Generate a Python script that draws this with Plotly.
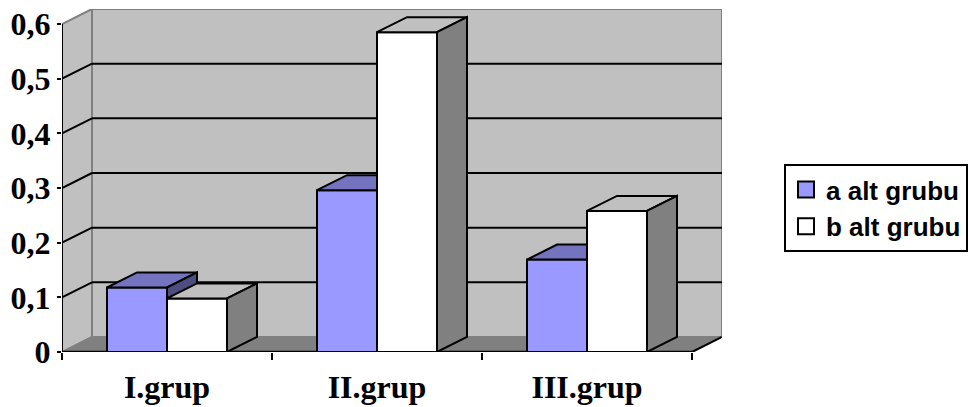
import plotly.graph_objects as go

# Data
categories = ["I.grup", "II.grup", "III.grup"]
series_names = ["a alt grubu", "b alt grubu"]
values_a = [0.118, 0.296, 0.169]
values_b = [0.098, 0.585, 0.258]
y_ticks = [0, 0.1, 0.2, 0.3, 0.4, 0.5, 0.6]
y_tick_text = ["0", "0,1", "0,2", "0,3", "0,4", "0,5", "0,6"]

# 3D look: depth offset in axis units (x per category, y per value)
DX = 30 / 210
DY = 0.15 / 5.46
BAR_W = 60 / 210
Y_MAX = 0.6

WALL = "#C0C0C0"
WALL_EDGE = "#808080"
FLOOR = "#808080"

series_styles = [
    dict(front="#9999FF", top="#7373BF", side="#4D4D80"),
    dict(front="#FFFFFF", top="#C0C0C0", side="#808080"),
]


def box_faces(x0, x1, v):
    front = ([x0, x1, x1, x0, x0], [0, 0, v, v, 0])
    top = ([x0, x1, x1 + DX, x0 + DX, x0], [v, v, v + DY, v + DY, v])
    side = ([x1, x1 + DX, x1 + DX, x1, x1], [0, DY, v + DY, v, 0])
    return front, top, side


def face_trace(polys, color):
    xs, ys = [], []
    for px, py in polys:
        xs += px + [None]
        ys += py + [None]
    return go.Scatter(
        x=xs, y=ys, mode="lines", fill="toself", fillcolor=color,
        line=dict(color="black", width=2), hoverinfo="skip", showlegend=False,
    )


fig = go.Figure()

for s, vals in enumerate([values_a, values_b]):
    fronts, tops, sides = [], [], []
    for i, v in enumerate(vals):
        x0 = i - BAR_W + s * BAR_W
        f, t, sd = box_faces(x0, x0 + BAR_W, v)
        fronts.append(f)
        tops.append(t)
        sides.append(sd)
    st = series_styles[s]
    fig.add_trace(face_trace(fronts, st["front"]))
    fig.add_trace(face_trace(tops, st["top"]))
    fig.add_trace(face_trace(sides, st["side"]))

# legend entries
for s, name in enumerate(series_names):
    fig.add_trace(go.Scatter(
        x=[None], y=[None], mode="markers", name=name, legendgroup=name,
        marker=dict(symbol="square", size=16, color=series_styles[s]["front"],
                    line=dict(color="black", width=2)),
    ))

# walls, floor, gridlines, axis lines
xl, xr = -0.5, 2.5
shapes = [
    dict(type="path",
         path=f"M{xl},0 L{xl},{Y_MAX} L{xl+DX},{Y_MAX+DY} L{xl+DX},{DY} Z",
         fillcolor=WALL, line=dict(color=WALL_EDGE, width=2), layer="below"),
    dict(type="rect", x0=xl + DX, x1=xr + DX, y0=DY, y1=Y_MAX + DY,
         fillcolor=WALL, line=dict(color=WALL_EDGE, width=2), layer="below"),
    dict(type="path",
         path=f"M{xl},0 L{xr},0 L{xr+DX},{DY} L{xl+DX},{DY} Z",
         fillcolor=FLOOR, line=dict(color=WALL_EDGE, width=1.5), layer="below"),
]
for v in y_ticks[1:-1]:
    shapes.append(dict(type="line", x0=xl + DX, x1=xr + DX, y0=v + DY, y1=v + DY,
                       line=dict(color="black", width=2), layer="below"))
    shapes.append(dict(type="line", x0=xl, x1=xl + DX, y0=v, y1=v + DY,
                       line=dict(color="black", width=2), layer="below"))
shapes += [
    dict(type="line", x0=xl, x1=xl, y0=0, y1=Y_MAX,
         line=dict(color="black", width=2), layer="below"),
    dict(type="line", x0=xl, x1=xr, y0=0, y1=0,
         line=dict(color="black", width=2.5), layer="below"),
    dict(type="line", x0=xr, x1=xr + DX, y0=0, y1=DY,
         line=dict(color="black", width=2), layer="below"),
]

label_font = dict(family="Liberation Serif", size=32, color="black", weight="bold")

fig.update_layout(
    width=970, height=407,
    margin=dict(l=62, r=248, t=9, b=55, autoexpand=False),
    paper_bgcolor="white", plot_bgcolor="white",
    shapes=shapes,
    xaxis=dict(
        range=[xl, xr + DX], tickvals=[0, 1, 2], ticktext=categories,
        ticks="", showgrid=False, zeroline=False, showline=False,
        tickfont=label_font, ticklabelstandoff=13,
        minor=dict(tickmode="array", tickvals=[-0.5, 0.5, 1.5, 2.5],
                   ticks="outside", ticklen=7, tickwidth=2, tickcolor="black",
                   showgrid=False),
    ),
    yaxis=dict(
        range=[0, Y_MAX + DY], tickvals=y_ticks, ticktext=y_tick_text,
        ticks="outside", ticklen=4, tickwidth=2, tickcolor="black",
        showgrid=False, zeroline=False, showline=False, tickfont=label_font,
    ),
    legend=dict(
        x=(968 - 62) / 660, xanchor="right", y=(352 - 164) / 343, yanchor="top",
        bgcolor="white", bordercolor="black", borderwidth=2,
        font=dict(family="Liberation Sans", size=26, color="black", weight="bold"),
        traceorder="grouped", tracegroupgap=0,
    ),
)

fig.write_html("out.html")
